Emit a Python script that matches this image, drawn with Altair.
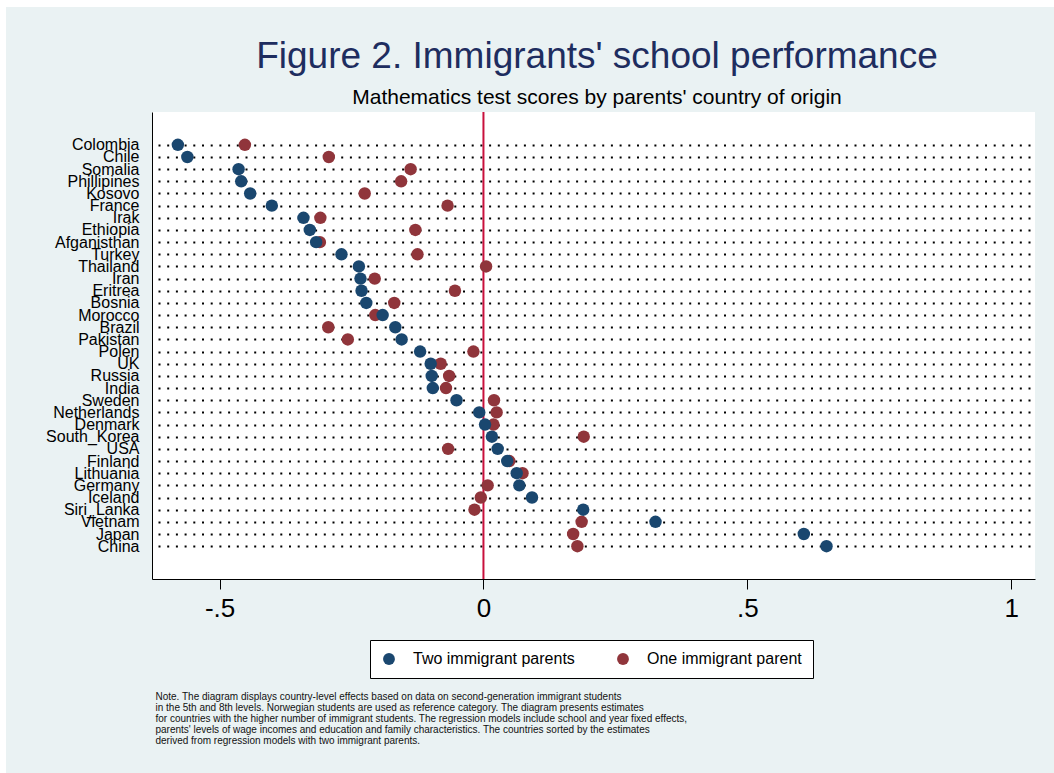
import json
import altair as alt
import pandas as pd

countries = ["Colombia", "Chile", "Somalia", "Phillipines", "Kosovo", "France", "Irak",
             "Ethiopia", "Afganisthan", "Turkey", "Thailand", "Iran", "Eritrea", "Bosnia",
             "Morocco", "Brazil", "Pakistan", "Polen", "UK", "Russia", "India", "Sweden",
             "Netherlands", "Denmark", "South_Korea", "USA", "Finland", "Lithuania",
             "Germany", "Iceland", "Siri_Lanka", "Vietnam", "Japan", "China"]

two_parents = [-0.579, -0.561, -0.464, -0.459, -0.442, -0.401, -0.341,
               -0.329, -0.317, -0.269, -0.236, -0.233, -0.231, -0.222,
               -0.191, -0.167, -0.155, -0.120, -0.100, -0.098, -0.096, -0.051,
               -0.008, 0.003, 0.016, 0.027, 0.045, 0.063,
               0.068, 0.092, 0.189, 0.326, 0.607, 0.650]

one_parent = [-0.452, -0.293, -0.138, -0.156, -0.225, -0.068, -0.309,
              -0.129, -0.310, -0.125, 0.005, -0.206, -0.054, -0.169,
              -0.205, -0.294, -0.257, -0.019, -0.081, -0.065, -0.071, 0.020,
              0.025, 0.019, 0.190, -0.067, 0.049, 0.074,
              0.008, -0.005, -0.017, 0.186, 0.170, 0.178]

series_names = ["Two immigrant parents", "One immigrant parent"]
series_colors = ["#1a476f", "#90353b"]
x_ticks = [-0.5, 0, 0.5, 1]

title_text = "Figure 2. Immigrants' school performance"
subtitle_text = "Mathematics test scores by parents' country of origin"
note_lines = [
    "Note. The diagram displays country-level effects based on data on second-generation immigrant students",
    "in the 5th and 8th levels. Norwegian students are used as reference category. The diagram presents estimates",
    "for countries with the higher number of immigrant students. The regression models include school and year fixed effects,",
    "parents' levels of wage incomes and education and family characteristics. The countries sorted by the estimates",
    "derived from regression models with two immigrant parents.",
]

rows = []
for i, (c, v) in enumerate(zip(countries, one_parent)):
    rows.append({"country": c, "rank": i, "series": series_names[1], "effect": v})
for i, (c, v) in enumerate(zip(countries, two_parents)):
    rows.append({"country": c, "rank": i, "series": series_names[0], "effect": v})
df = pd.DataFrame(rows)

W, H = 883, 467
PAD_L, PAD_T = 152, 112
FONT = "Liberation Sans"

x_scale = alt.Scale(domain=[-0.628, 1.045], nice=False, zero=False)
y_scale = alt.Scale(domain=[-2.7, len(countries) - 1 + 2.7], reverse=True, nice=False, zero=False)
label_expr = json.dumps(countries) + "[datum.value]"
x_label_expr = "(datum.value < 0 ? '-' : '') + replace(format(abs(datum.value), '.1~f'), '0.', '.')"

one = pd.DataFrame({"k": [0]})

strip_left = alt.Chart(one).mark_rect(color="white").encode(
    x=alt.value(-PAD_L), x2=alt.value(-PAD_L + 6),
    y=alt.value(-PAD_T), y2=alt.value(773 - PAD_T))
strip_top = alt.Chart(one).mark_rect(color="white").encode(
    x=alt.value(-PAD_L), x2=alt.value(1054 - PAD_L),
    y=alt.value(-PAD_T), y2=alt.value(-PAD_T + 7))

title = alt.Chart(one).mark_text(
    text=title_text, align="center", baseline="alphabetic", fontSize=37,
    color="#1e2d5f", font=FONT).encode(
    x=alt.value(597 - PAD_L), y=alt.value(68 - PAD_T))
subtitle = alt.Chart(one).mark_text(
    text=subtitle_text, align="center", baseline="alphabetic", fontSize=21,
    color="black", font=FONT).encode(
    x=alt.value(597 - PAD_L), y=alt.value(104 - PAD_T))

zero_rule = alt.Chart(pd.DataFrame({"effect": [0.0]})).mark_rule(
    color="#c8103c", strokeWidth=2).encode(
    x=alt.X("effect:Q", scale=x_scale))

points = alt.Chart(df).mark_circle(size=155, opacity=1).encode(
    x=alt.X("effect:Q", scale=x_scale,
            axis=alt.Axis(values=x_ticks, title=None, grid=False,
                          labelExpr=x_label_expr,
                          tickSize=10, tickColor="black", domainColor="black",
                          labelFontSize=26, labelColor="black", labelPadding=6,
                          labelFont=FONT)),
    y=alt.Y("rank:Q", scale=y_scale,
            axis=alt.Axis(title=None, ticks=False, grid=True, gridColor="black",
                          values=list(range(len(countries))), labelExpr=label_expr,
                          gridDash=[2, 6.7], gridWidth=2, gridDashOffset=2.7,
                          gridOpacity=1, domainColor="black", labelColor="black",
                          labelFontSize=16, labelPadding=13, labelFont=FONT,
                          labelOverlap=False, labelBound=False, labelFlush=False)),
    color=alt.Color("series:N",
                    scale=alt.Scale(domain=series_names, range=series_colors),
                    legend=alt.Legend(title=None, orient="none", direction="horizontal",
                                      legendX=218, legendY=528,
                                      labelFontSize=16, labelColor="black", labelFont=FONT,
                                      labelLimit=0,
                                      symbolType="circle", symbolSize=140,
                                      symbolStrokeWidth=0, labelOffset=16,
                                      columnPadding=40, padding=11,
                                      strokeColor="black", fillColor="white")),
)

note = alt.Chart(one).mark_text(
    text=note_lines, align="left", baseline="top", fontSize=10, lineHeight=11,
    color="#111111", font=FONT).encode(
    x=alt.value(155.5 - PAD_L), y=alt.value(692 - PAD_T))

chart = alt.layer(strip_left, strip_top, title, subtitle, zero_rule, points, note).properties(
    width=W, height=H,
    background="#eaf2f3",
    padding={"left": PAD_L, "top": PAD_T, "right": 1054 - PAD_L - W, "bottom": 773 - PAD_T - H},
    autosize=alt.AutoSizeParams(type="none"),
).configure_view(stroke=None, fill="white")

chart.save("out.html", embed_options={"renderer": "svg", "actions": False})
